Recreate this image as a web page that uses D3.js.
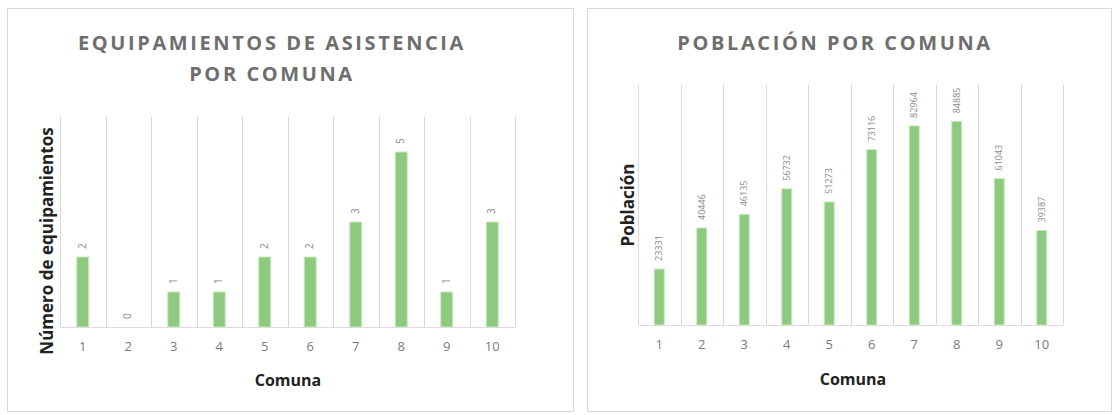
<!DOCTYPE html>
<html><head><meta charset="utf-8">
<script src="https://cdn.jsdelivr.net/npm/d3@7"></script>
<style>body{margin:0;background:#fff;} svg{display:block;}</style>
</head><body>
<svg id="c" width="1117" height="415"></svg>
<script>
const comunas = ["1","2","3","4","5","6","7","8","9","10"];
const equipamientos = [2,0,1,1,2,2,3,5,1,3];
const poblacion = [23331,40446,46135,56732,51273,73116,82964,84885,61043,39387];

const svg = d3.select("#c");
const font = "'Open Sans', 'Liberation Sans', sans-serif";
const green = "#8dc97f";

function panel(cfg){
  const g = svg.append("g");
  g.append("rect").attr("x",cfg.box[0]+0.5).attr("y",cfg.box[1]+0.5)
    .attr("width",cfg.box[2]).attr("height",cfg.box[3])
    .attr("fill","#fff").attr("stroke","#d9d9d9");
  cfg.title.forEach((t,i)=>{
    g.append("text").attr("x",cfg.titleX).attr("y",cfg.titleY+i*31)
      .attr("text-anchor","middle").attr("font-family",font).attr("font-size",20)
      .attr("font-weight","bold").attr("letter-spacing",2.6).attr("fill","#6e6e6e").text(t);
  });
  const x = d3.scaleBand().domain(comunas).range([cfg.plot[0],cfg.plot[1]]).padding(0);
  const y = d3.scaleLinear().domain([0,cfg.max]).range([cfg.plot[3],cfg.plot[2]]);
  const bounds = comunas.map(c=>x(c)).concat([cfg.plot[1]]);
  g.selectAll(".vg").data(bounds).enter().append("line")
    .attr("x1",d=>Math.round(d)+0.5).attr("x2",d=>Math.round(d)+0.5)
    .attr("y1",cfg.plot[2]).attr("y2",cfg.plot[3])
    .attr("stroke","#d9d9d9").attr("stroke-width",1);
  const ax = d3.axisBottom(x).tickSize(0).tickPadding(15);
  const axg = g.append("g").attr("transform",`translate(0,${cfg.plot[3]})`).call(ax);
  axg.select(".domain").attr("stroke","#e3d6e6");
  axg.selectAll("text").attr("font-family",font).attr("font-size",13).attr("fill","#7a7a7a");
  const bw = cfg.barW;
  g.selectAll(".bar").data(cfg.values).enter().append("rect")
    .attr("x",(d,i)=>x(comunas[i])+x.bandwidth()/2-bw/2)
    .attr("y",d=>y(d)).attr("width",bw).attr("height",d=>cfg.plot[3]-y(d))
    .attr("fill",green).attr("stroke","#c9ecbf").attr("stroke-width",1);
  g.selectAll(".lbl").data(cfg.values).enter().append("text")
    .attr("transform",(d,i)=>`translate(${x(comunas[i])+x.bandwidth()/2+3},${y(d)-cfg.lblGap}) rotate(-90)`)
    .attr("text-anchor","start").attr("font-family",font).attr("font-size",cfg.lblSize)
    .attr("fill","#8a8a8a").text(d=>d);
  g.append("text").attr("x",cfg.xTitle[0]).attr("y",cfg.xTitle[1]).attr("text-anchor","middle")
    .attr("font-family",font).attr("font-size",16).attr("font-weight","bold").attr("fill","#222").text("Comuna");
  g.append("text").attr("transform",`translate(${cfg.yTitle[0]},${cfg.yTitle[1]}) rotate(-90)`)
    .attr("text-anchor","middle").attr("font-family",font).attr("font-size",17).attr("font-weight","bold")
    .attr("fill","#222").text(cfg.yLabel);
}

panel({box:[7,8,566,403], title:["EQUIPAMIENTOS DE ASISTENCIA","POR COMUNA"], titleX:272, titleY:50,
  plot:[60,515,117,327], max:6, values:equipamientos, barW:12, lblGap:8, lblSize:10,
  xTitle:[288,386], yTitle:[53,241], yLabel:"Número de equipamientos"});

panel({box:[587,8,524,403], title:["POBLACIÓN POR COMUNA"], titleX:835, titleY:50,
  plot:[638,1063,85,325], max:100000, values:poblacion, barW:10, lblGap:8, lblSize:9,
  xTitle:[853,385], yTitle:[634,205], yLabel:"Población"});
</script>
</body></html>
